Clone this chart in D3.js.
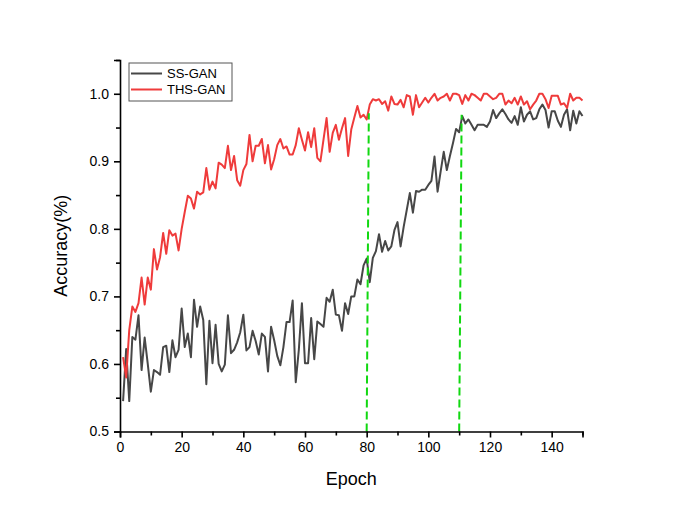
<!DOCTYPE html>
<html>
<head>
<meta charset="utf-8">
<script src="https://cdn.jsdelivr.net/npm/d3@7.9.0/dist/d3.min.js"></script>
<style>
  html, body { margin: 0; padding: 0; background: #fff; }
  svg { display: block; font-family: "Liberation Sans", Arial, sans-serif; }
</style>
</head>
<body>
<svg id="chart" width="676" height="517"></svg>
<script>
// Accuracy per epoch (epochs 1..150)
const epochs = d3.range(1, 151);

const ssGan = [
  0.545, 0.622, 0.545, 0.640, 0.636, 0.672, 0.591, 0.639, 0.600, 0.559,
  0.591, 0.588, 0.584, 0.625, 0.627, 0.588, 0.635, 0.610, 0.621, 0.682,
  0.625, 0.645, 0.610, 0.695, 0.655, 0.685, 0.665, 0.570, 0.664, 0.601,
  0.658, 0.600, 0.589, 0.599, 0.672, 0.616, 0.621, 0.632, 0.647, 0.673,
  0.620, 0.625, 0.649, 0.634, 0.614, 0.645, 0.640, 0.589, 0.655, 0.635,
  0.612, 0.598, 0.625, 0.662, 0.662, 0.694, 0.573, 0.621, 0.690, 0.601,
  0.601, 0.668, 0.607, 0.663, 0.659, 0.655, 0.698, 0.692, 0.710, 0.673,
  0.672, 0.649, 0.690, 0.674, 0.700, 0.700, 0.725, 0.718, 0.746, 0.756,
  0.721, 0.757, 0.767, 0.792, 0.766, 0.782, 0.768, 0.774, 0.798, 0.810,
  0.774, 0.803, 0.828, 0.853, 0.824, 0.856, 0.855, 0.858, 0.858, 0.865,
  0.871, 0.907, 0.855, 0.885, 0.914, 0.887, 0.908, 0.927, 0.948, 0.943,
  0.967, 0.956, 0.962, 0.954, 0.946, 0.954, 0.954, 0.954, 0.951, 0.959,
  0.976, 0.964, 0.971, 0.977, 0.970, 0.962, 0.957, 0.967, 0.954, 0.980,
  0.959, 0.969, 0.974, 0.962, 0.964, 0.977, 0.984, 0.976, 0.950, 0.974,
  0.974, 0.960, 0.951, 0.969, 0.977, 0.946, 0.975, 0.956, 0.974, 0.967
];

const thsGan = [
  0.610, 0.580, 0.650, 0.685, 0.677, 0.690, 0.728, 0.688, 0.728, 0.710,
  0.770, 0.740, 0.758, 0.794, 0.763, 0.798, 0.790, 0.793, 0.768, 0.800,
  0.825, 0.849, 0.845, 0.830, 0.855, 0.851, 0.854, 0.890, 0.858, 0.870,
  0.860, 0.898, 0.895, 0.890, 0.923, 0.887, 0.908, 0.872, 0.864, 0.887,
  0.896, 0.939, 0.900, 0.923, 0.923, 0.933, 0.897, 0.924, 0.888, 0.903,
  0.924, 0.933, 0.919, 0.922, 0.910, 0.910, 0.924, 0.949, 0.932, 0.916,
  0.943, 0.921, 0.949, 0.905, 0.900, 0.932, 0.964, 0.914, 0.942, 0.954,
  0.932, 0.949, 0.964, 0.908, 0.947, 0.965, 0.982, 0.965, 0.969, 0.962,
  0.984, 0.992, 0.990, 0.992, 0.985, 0.989, 0.975, 0.996, 0.985, 0.984,
  0.991, 0.980, 0.998, 0.996, 0.969, 0.998, 0.980, 0.987, 0.994, 0.987,
  0.994, 1.000, 0.990, 0.994, 0.996, 1.000, 0.990, 1.000, 1.000, 0.998,
  0.985, 0.998, 0.990, 1.000, 0.998, 0.994, 0.990, 1.000, 1.000, 0.996,
  0.992, 0.994, 1.000, 1.000, 0.984, 0.990, 0.986, 0.994, 0.984, 0.996,
  0.984, 0.989, 0.977, 0.984, 0.990, 1.000, 1.000, 0.992, 0.979, 0.997,
  0.997, 0.997, 0.984, 0.986, 0.979, 1.000, 0.990, 0.994, 0.994, 0.990
];

// green dashed markers: bottom epoch, top epoch, top accuracy
const guideBottomX = [80, 110];
const guideTopX = [80.7, 110.8];
const guideTopY = [0.971, 0.969];

const seriesNames = ["SS-GAN", "THS-GAN"];
const seriesColors = ["#474747", "#ef3b3b"];

const xMajor = [0, 20, 40, 60, 80, 100, 120, 140];
const xMinor = [10, 30, 50, 70, 90, 110, 130, 150];
const yMajor = [0.5, 0.6, 0.7, 0.8, 0.9, 1.0];
const yMinor = [0.55, 0.65, 0.75, 0.85, 0.95, 1.05];

const svg = d3.select("#chart");
const plotLeft = 120, plotRight = 582.5, plotTop = 60, plotBottom = 431.5;

const x = d3.scaleLinear().domain([0, 150]).range([plotLeft, plotRight]);
const y = d3.scaleLinear().domain([0.5, 1.05]).range([plotBottom, plotTop]);

// data lines
const series = [ssGan, thsGan];
const line = d3.line()
  .x((d, i) => x(epochs[i]))
  .y(d => y(d));

svg.append("g")
  .selectAll("path")
  .data(series)
  .join("path")
  .attr("d", d => line(d))
  .attr("fill", "none")
  .attr("stroke", (d, i) => seriesColors[i])
  .attr("stroke-width", 2)
  .attr("stroke-linejoin", "round");

// dashed guides
svg.append("g")
  .selectAll("line")
  .data(guideBottomX)
  .join("line")
  .attr("x1", d => x(d))
  .attr("y1", y(0.5))
  .attr("x2", (d, i) => x(guideTopX[i]))
  .attr("y2", (d, i) => y(guideTopY[i]))
  .attr("stroke", "#11d811")
  .attr("stroke-width", 2)
  .attr("stroke-dasharray", "8,4");

// axes
svg.append("g")
  .attr("transform", `translate(0,${plotBottom})`)
  .call(d3.axisBottom(x).tickValues(xMajor).tickSize(6).tickPadding(5).tickFormat(d3.format("d")));
svg.append("g")
  .attr("transform", `translate(0,${plotBottom})`)
  .call(d3.axisBottom(x).tickValues(xMinor).tickSize(4).tickFormat(""))
  .call(g => g.select(".domain").remove());

svg.append("g")
  .attr("transform", `translate(${plotLeft},0)`)
  .call(d3.axisLeft(y).tickValues(yMajor).tickSize(6).tickPadding(5).tickFormat(d3.format(".1f")));
svg.append("g")
  .attr("transform", `translate(${plotLeft},0)`)
  .call(d3.axisLeft(y).tickValues(yMinor).tickSize(4).tickFormat(""))
  .call(g => g.select(".domain").remove());

svg.selectAll(".domain, .tick line")
  .attr("stroke", "#000")
  .attr("stroke-width", 1.6);
svg.selectAll(".tick text")
  .attr("font-size", 14)
  .attr("fill", "#000")
  .attr("font-family", "Liberation Sans, Arial, sans-serif");

// axis titles
svg.append("text")
  .attr("x", (plotLeft + plotRight) / 2)
  .attr("y", 485)
  .attr("text-anchor", "middle")
  .attr("font-size", 18)
  .text("Epoch");

svg.append("text")
  .attr("transform", `translate(67,${(plotTop + plotBottom) / 2}) rotate(-90)`)
  .attr("text-anchor", "middle")
  .attr("font-size", 18)
  .text("Accuracy(%)");

// legend
const legend = svg.append("g").attr("transform", "translate(129,63)");
legend.append("rect")
  .attr("width", 103)
  .attr("height", 38)
  .attr("fill", "#fff")
  .attr("stroke", "#555")
  .attr("stroke-width", 1);

const rows = legend.selectAll("g.row")
  .data(seriesNames)
  .join("g")
  .attr("class", "row")
  .attr("transform", (d, i) => `translate(0,${10.5 + i * 16})`);
rows.append("line")
  .attr("x1", 2).attr("x2", 33)
  .attr("stroke", (d, i) => seriesColors[i])
  .attr("stroke-width", 2);
rows.append("text")
  .attr("x", 38)
  .attr("dy", "0.36em")
  .attr("font-size", 13)
  .text(d => d);
</script>
</body>
</html>
